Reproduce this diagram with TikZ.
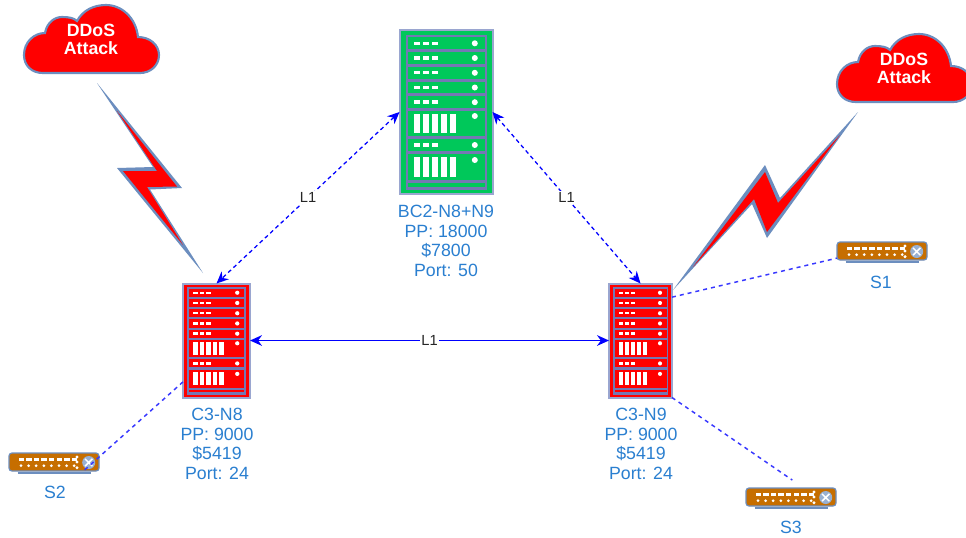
\documentclass[tikz,border=0pt]{standalone}
\usepackage{fontspec}
\setmainfont{Liberation Sans}
\usetikzlibrary{arrows.meta}
\definecolor{steel}{HTML}{6C8EBF}
\definecolor{rackframe}{HTML}{7478B4}
\definecolor{rackedge}{HTML}{9AA6D0}
\definecolor{rackgreen}{HTML}{00C85A}
\definecolor{labelblue}{HTML}{2A7FD0}
\definecolor{swatch}{HTML}{C66E00}
\tikzset{
  rackbox/.style={draw=rackedge,line width=1.5pt,rectangle,inner sep=0pt,outer sep=0pt,minimum width=#1},
  infotext/.style={text=labelblue,font=\fontsize{13.3}{14.8}\selectfont,align=center,inner sep=0pt},
  cloudtext/.style={text=white,font=\fontsize{13.3}{14}\selectfont\bfseries,align=center,inner sep=0pt},
  linklabel/.style={fill=white,text=black!85,font=\fontsize{11}{12}\selectfont,inner sep=1pt},
  uplink/.style={blue,line width=.95pt,dash pattern=on 3pt off 2.4pt,{Stealth[length=9pt,width=8pt]}-{Stealth[length=9pt,width=8pt]}},
  direct/.style={blue,line width=1pt,{Stealth[length=9pt,width=8pt]}-{Stealth[length=9pt,width=8pt]}},
  access/.style={color=blue!78!white,line width=1.1pt,dash pattern=on 3pt off 3pt},
  boltout/.style={fill=steel},
  boltin/.style={fill=red},
  cloudshape/.style={fill=red,draw=steel,line width=1.6pt},
  switchbox/.style={rectangle,rounded corners=2.2pt,fill=swatch,draw=steel,line width=.9pt,minimum width=67.5pt,minimum height=13.5pt,inner sep=0pt,outer sep=0pt},
}
% #1 name, #2 centre x, #3 centre y, #4 width px, #5 height px, #6 colour
\newcommand{\rackunit}[6]{%
  \node[rackbox=#4*.75pt,minimum height=#5*.75pt,fill=#6] (#1) at (#2,#3) {};
  \pgfmathsetmacro{\rsx}{#4/93}\pgfmathsetmacro{\rsy}{#5/164}
  \begin{scope}[shift={(#2,#3)},xscale=\rsx,yscale=\rsy,shift={(-46.5,-82)}]
    \fill[rackframe] (6,5) rectangle (87,160);
    \foreach \a/\b in {7.3/19.3,22.3/34,37/48.7,51.7/63.3,66.3/78,80.7/105.7,109.3/120.7,124.3/150,152.7/156.7}
      \fill[#6] (8.3,\a) rectangle (85,\b);
    \foreach \a in {13.3,28,42.8,57.5,72.2,115}{
      \foreach \u in {14.3,23.3,32.3} \fill[white] (\u,\a-1.8) rectangle (\u+6,\a+1.6);
      \fill[white] (75.3,\a) ellipse (3 and 3);
    }
    \foreach \a/\b/\c in {84/102.7/86,127.3/146.7/130}{
      \foreach \u in {14.3,23.3,32.3,41.3,50.3} \fill[white] (\u,\a) rectangle (\u+6,\b);
      \fill[white] (75.3,\c) ellipse (3 and 3);
    }
  \end{scope}}
% #1 name, #2 left, #3 top
\newcommand{\switchunit}[3]{%
  \node[switchbox] (#1) at (#2+45,#3+9) {};
  \begin{scope}[shift={(#2,#3)}]
    \draw[steel,line width=1.4pt] (8.7,20) -- (81.7,20);
    \foreach \u in {0,...,7}{
      \fill[white] (9.5+7.6*\u,5.2) rectangle (15+7.6*\u,8);
      \fill[white] (12+7.6*\u,12.7) circle (1.5);
    }
    \foreach \v in {4,9,14.7} \fill[white] (68,\v) circle (1.7);
    \fill[steel!70!white] (79.7,9.5) circle (6.5);
    \draw[white,line width=1.1pt] (76,5.8) -- (83.4,13.2) (76,13.2) -- (83.4,5.8);
  \end{scope}}
% #1 name, #2 x offset, #3 y offset
\newcommand{\cloudunit}[3]{%
  \begin{scope}[shift={(#2,#3)}]
    \draw[cloudshape] (43,73) .. controls (32,73) and (24,66) .. (24,55)
      .. controls (24,42) and (34,33) .. (45,33)
      .. controls (47,22) and (55,17) .. (62,17)
      .. controls (69,17) and (74,18) .. (77,21)
      .. controls (83,10) and (94,5) .. (106,5)
      .. controls (122,5) and (136,18) .. (138,37)
      .. controls (150,37) and (159,45) .. (159,55)
      .. controls (159,66) and (150,73) .. (140,73) -- cycle;
  \end{scope}
  \node[cloudtext] (#1) at (#2+91,#3+39.5) {DDoS\\Attack};}
\begin{document}
\begin{tikzpicture}[x=.75pt,y=-.75pt]
\useasboundingbox (0,0) rectangle (966,537);
\fill[white] (0,0) rectangle (966,537);
% lightning
\fill[boltout] (97,83) -- (182,188) -- (150,189.5) -- (203,273) -- (117,168) -- (153,167) -- cycle;
\fill[boltin] (117,111) -- (177,186.5) -- (147,187) -- (183,245) -- (123,171) -- (157,171) -- cycle;
\fill[boltout] (858,112) -- (767,238) -- (752,204) -- (673,290) -- (765,165) -- (780,198) -- cycle;
\fill[boltin] (840,135) -- (767,232) -- (754,199) -- (693,267) -- (765,172) -- (778,203) -- cycle;
% clouds
\cloudunit{cloudA}{0}{0}
\cloudunit{cloudB}{813}{29}
% racks
\rackunit{bc}{446}{112}{93}{164}{rackgreen}
\rackunit{neight}{216.5}{340.5}{67}{114}{red}
\rackunit{nnine}{640.5}{340.5}{63}{114}{red}
% switches
\switchunit{sone}{837}{242}
\switchunit{stwo}{9}{453}
\switchunit{sthree}{746}{488}
% links
\draw[uplink] (bc.west) -- node[linklabel,solid] (la) {L1} (neight.north);
\draw[uplink] (bc.east) -- node[linklabel,solid] (lb) {L1} (nnine.north);
\draw[direct] (neight.east) -- node[linklabel] (lc) {L1} (nnine.west);
\draw[access] (nnine.54) -- (sone.189);
\draw[access,shorten >=10.5pt] (nnine.south east) -- (sthree.35.5);
\draw[access] (neight.-129) -- (stwo.-17);
% labels
\node[infotext] (tbc) at (446,241) {BC2-N8+N9\\PP: 18000\\\$7800\\Port: 50};
\node[infotext] (tn8) at (217,444) {C3-N8\\PP: 9000\\\$5419\\Port: 24};
\node[infotext] (tn9) at (641,444) {C3-N9\\PP: 9000\\\$5419\\Port: 24};
\node[infotext] (ts1) at (881,282) {S1};
\node[infotext] (ts2) at (55,492) {S2};
\node[infotext] (ts3) at (791,527) {S3};
\end{tikzpicture}
\end{document}
